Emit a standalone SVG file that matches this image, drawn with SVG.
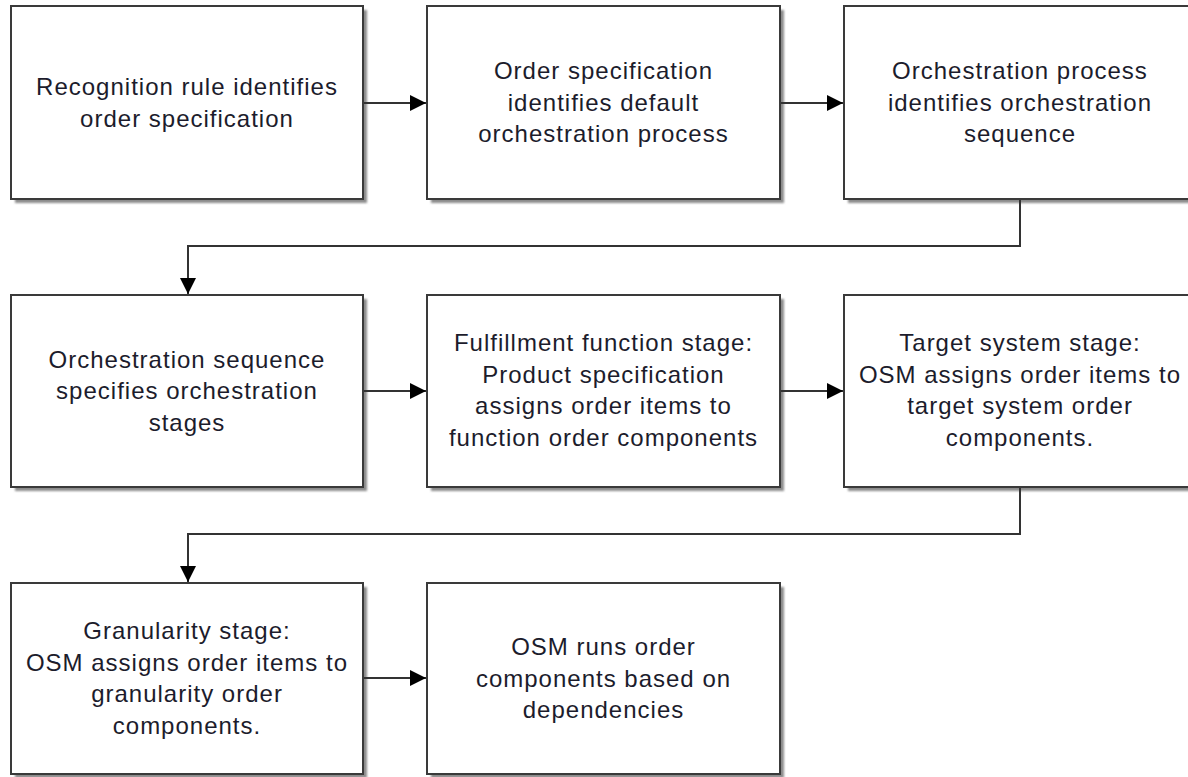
<svg xmlns="http://www.w3.org/2000/svg" width="1188" height="777" viewBox="0 0 1188 777">
<defs>
<marker id="arr" markerUnits="userSpaceOnUse" markerWidth="17" markerHeight="17" refX="16" refY="8" orient="auto">
<path d="M0,0 L16,8 L0,16 z" fill="#000"/>
</marker>
<filter id="sh" x="-5%" y="-5%" width="115%" height="115%">
<feGaussianBlur stdDeviation="1"/>
</filter>
</defs>
<style>
.shadow{fill:#8c8c8c;filter:url(#sh)}
.box{fill:#fff;stroke:#3a3a3a;stroke-width:2}
.t{font-family:"Liberation Sans",Arial,sans-serif;font-size:24px;letter-spacing:1px;fill:#1c1c2c;text-anchor:middle}
.c{fill:none;stroke:#333;stroke-width:2}
</style>
<rect width="1188" height="777" fill="#fff"/>

<g id="n1">
<rect class="shadow" x="15" y="10" width="352" height="193"/>
<rect class="box" x="11" y="6" width="352" height="193"/>
<text class="t" x="187" y="95">Recognition rule identifies</text>
<text class="t" x="187" y="127">order specification</text>
</g>
<g id="n2">
<rect class="shadow" x="431" y="10" width="353" height="193"/>
<rect class="box" x="427" y="6" width="353" height="193"/>
<text class="t" x="603.5" y="79">Order specification</text>
<text class="t" x="603.5" y="110.5">identifies default</text>
<text class="t" x="603.5" y="142">orchestration process</text>
</g>
<g id="n3">
<rect class="shadow" x="848" y="10" width="352" height="193"/>
<rect class="box" x="844" y="6" width="352" height="193"/>
<text class="t" x="1020" y="79">Orchestration process</text>
<text class="t" x="1020" y="110.5">identifies orchestration</text>
<text class="t" x="1020" y="142">sequence</text>
</g>

<g id="n4">
<rect class="shadow" x="15" y="299" width="352" height="192"/>
<rect class="box" x="11" y="295" width="352" height="192"/>
<text class="t" x="187" y="367.5">Orchestration sequence</text>
<text class="t" x="187" y="399">specifies orchestration</text>
<text class="t" x="187" y="430.5">stages</text>
</g>
<g id="n5">
<rect class="shadow" x="431" y="299" width="353" height="192"/>
<rect class="box" x="427" y="295" width="353" height="192"/>
<text class="t" x="603.5" y="351">Fulfillment function stage:</text>
<text class="t" x="603.5" y="382.5">Product specification</text>
<text class="t" x="603.5" y="414">assigns order items to</text>
<text class="t" x="603.5" y="445.5">function order components</text>
</g>
<g id="n6">
<rect class="shadow" x="848" y="299" width="352" height="192"/>
<rect class="box" x="844" y="295" width="352" height="192"/>
<text class="t" x="1020" y="351">Target system stage:</text>
<text class="t" x="1020" y="382.5">OSM assigns order items to</text>
<text class="t" x="1020" y="414">target system order</text>
<text class="t" x="1020" y="445.5">components.</text>
</g>

<g id="n7">
<rect class="shadow" x="15" y="587" width="352" height="191"/>
<rect class="box" x="11" y="583" width="352" height="191"/>
<text class="t" x="187" y="639">Granularity stage:</text>
<text class="t" x="187" y="670.5">OSM assigns order items to</text>
<text class="t" x="187" y="702">granularity order</text>
<text class="t" x="187" y="733.5">components.</text>
</g>
<g id="n8">
<rect class="shadow" x="431" y="587" width="353" height="191"/>
<rect class="box" x="427" y="583" width="353" height="191"/>
<text class="t" x="603.5" y="655">OSM runs order</text>
<text class="t" x="603.5" y="686.5">components based on</text>
<text class="t" x="603.5" y="718">dependencies</text>
</g>

<g id="connectors">
<path class="c" d="M364,103 H426" marker-end="url(#arr)"/>
<path class="c" d="M781,103 H843" marker-end="url(#arr)"/>
<path class="c" d="M1020,200 V246 H188 V294" marker-end="url(#arr)"/>
<path class="c" d="M364,391 H426" marker-end="url(#arr)"/>
<path class="c" d="M781,391 H843" marker-end="url(#arr)"/>
<path class="c" d="M1020,488 V534 H188 V582" marker-end="url(#arr)"/>
<path class="c" d="M364,678 H426" marker-end="url(#arr)"/>
</g>
</svg>
